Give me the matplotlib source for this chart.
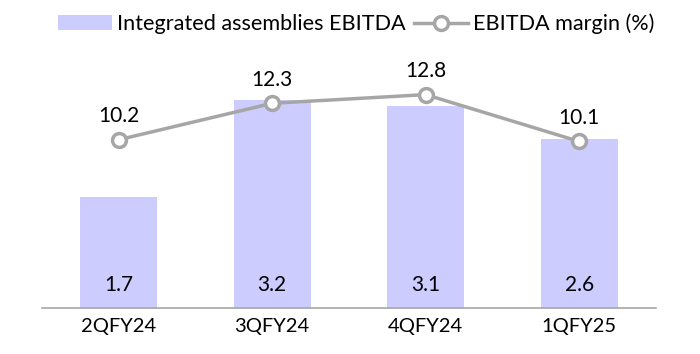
import matplotlib
matplotlib.use("Agg")
import matplotlib.pyplot as plt
from matplotlib.lines import Line2D
from matplotlib.patches import Patch

plt.rcParams['font.family'] = ['Lato', 'DejaVu Sans']

categories = ["2QFY24", "3QFY24", "4QFY24", "1QFY25"]
ebitda = [1.7, 3.2, 3.1, 2.6]
margin = [10.2, 12.3, 12.8, 10.1]

bar_color = "#CCCCFF"
line_color = "#A6A6A6"

fig = plt.figure(figsize=(7.0, 3.54), dpi=100)
ax = fig.add_axes([0.06, 0.13, 0.877, 0.735])
x = list(range(len(categories)))
ax.bar(x, ebitda, width=0.5, color=bar_color, zorder=1)
ax.set_xlim(-0.5, 3.5)
ax.set_ylim(0, 4.0)
for xi, v in zip(x, ebitda):
    ax.text(xi, 0.36, f"{v}", ha="center", va="center", fontsize=15, color="#000000")
for s in ["top", "left", "right"]:
    ax.spines[s].set_visible(False)
ax.spines["bottom"].set_color("#A6A6A6")
ax.spines["bottom"].set_linewidth(1.2)
ax.set_yticks([])
ax.set_xticks(x)
ax.set_xticklabels(categories, fontsize=14.5)
ax.tick_params(axis="x", length=0, pad=7)

ax2 = ax.twinx()
ax2.set_ylim(0.5, 15.5)
ax2.plot(x, margin, color=line_color, lw=2.5, marker="o", markersize=10,
         markerfacecolor="white", markeredgecolor=line_color, markeredgewidth=2.5, zorder=3)
for xi, v in zip(x, margin):
    ax2.annotate(f"{v}", (xi, v), xytext=(0, 17), textcoords="offset points",
                 ha="center", va="center", fontsize=15)
ax2.axis("off")

handles = [Patch(facecolor=bar_color, edgecolor="none"),
           Line2D([0], [0], color=line_color, lw=2.5, marker="o", markersize=10,
                  markerfacecolor="white", markeredgecolor=line_color, markeredgewidth=2.5)]
fig.legend(handles, ["Integrated assemblies EBITDA", "EBITDA margin (%)"],
           loc="center right", bbox_to_anchor=(0.935, 0.932), ncol=2, frameon=False,
           fontsize=15.6, handlelength=2.5, handleheight=0.7, handletextpad=0.23,
           columnspacing=0.37, borderaxespad=0.0, borderpad=0.0)

fig.savefig("out.png", dpi=100)
